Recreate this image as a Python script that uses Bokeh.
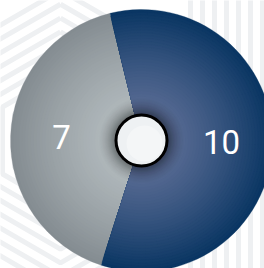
import numpy as np
from bokeh.plotting import figure
from bokeh.models import ColumnDataSource, Range1d
from bokeh.core.properties import value
from bokeh.embed import file_html
from bokeh.resources import INLINE

# ---- data ----
labels = ["7", "10"]
values = [7, 10]
colors_center = ["#b9c1c4", "#64739b"]
colors_edge = ["#848c91", "#0a3663"]

W, H = 264, 268
p = figure(width=W, height=H, output_backend="svg", toolbar_location=None,
           x_range=Range1d(0, W), y_range=Range1d(0, H), min_border=0)
p.axis.visible = False
p.grid.visible = False
p.outline_line_color = None
p.background_fill_color = "white"
p.border_fill_color = "white"

def X(wx):
    return wx
def Y(wy):
    return H - wy

# ---- faint background pattern ----
bg = "#eef0f2"
xs, ys = [], []
hcx, hcy = 60, 140
for k in range(0, 9):
    rin = 130 - 12 * k
    R = rin / np.cos(np.pi / 6)
    angs = np.deg2rad(np.arange(90, 90 + 361, 60))
    xs.append([X(hcx + R * np.cos(a)) for a in angs])
    ys.append([Y(hcy - R * np.sin(a)) for a in angs])
for k in range(0, 7):
    vx = 190 + 12 * k
    xs.append([X(vx), X(vx)])
    ys.append([Y(-10), Y(280)])
p.multi_line(xs, ys, line_color=bg, line_width=5)

# ---- pie ----
cx, cy = X(141), Y(140)
R = 131
total = sum(values)
mid0 = np.deg2rad(178)
span = [v / total * 2 * np.pi for v in values]
starts = [mid0 - span[0] / 2, mid0 + span[0] / 2]
ends = [mid0 + span[0] / 2, mid0 + span[0] / 2 + span[1]]

def hex2rgb(h):
    h = h.lstrip("#")
    return np.array([int(h[i:i + 2], 16) for i in (0, 2, 4)], dtype=float)

def rgb2hex(c):
    c = np.clip(np.round(c), 0, 255).astype(int)
    return "#%02x%02x%02x" % tuple(c)

N = 45
rad = np.linspace(R, 0, N, endpoint=False)
wx, wy, wr, ws, we, wc = [], [], [], [], [], []
for i in range(len(values)):
    c0, c1 = hex2rgb(colors_center[i]), hex2rgb(colors_edge[i])
    for r in rad:
        t = (r / R) ** 1.4
        wx.append(cx); wy.append(cy); wr.append(r)
        ws.append(starts[i]); we.append(ends[i])
        wc.append(rgb2hex(c0 + (c1 - c0) * t))
src = ColumnDataSource(dict(x=wx, y=wy, r=wr, s=ws, e=we, c=wc))
p.wedge(x="x", y="y", radius="r", start_angle="s", end_angle="e",
        fill_color="c", line_color="c", line_width=0.3, source=src)

# ---- labels ----
lr = 80
mids = [(s + e) / 2 for s, e in zip(starts, ends)]
lx = [cx + lr * np.cos(m) for m in mids]
ly = [cy + lr * np.sin(m) + 1 for m in mids]
p.text(x=lx, y=ly, text=labels, text_color="white",
       text_font=value("Roboto"), text_font_size="33px",
       text_align="center", text_baseline="middle")

# ---- shadow around the center button ----
sh_r = np.linspace(43, 27, 16)
for r in sh_r:
    a = 0.045 * (1 - (r - 27) / 16) ** 1.3 + 0.008
    p.circle(x=[cx], y=[cy], radius=r, fill_color="black", fill_alpha=a,
             line_color=None)

# ---- center button ----
p.circle(x=[cx], y=[cy], radius=25.5, fill_color="#eef1f3",
         line_color="black", line_width=3)
p.circle(x=[cx + 3], y=[cy - 3], radius=18, fill_color="white",
         fill_alpha=0.35, line_color=None)

open("out.html", "w").write(file_html(p, INLINE))
